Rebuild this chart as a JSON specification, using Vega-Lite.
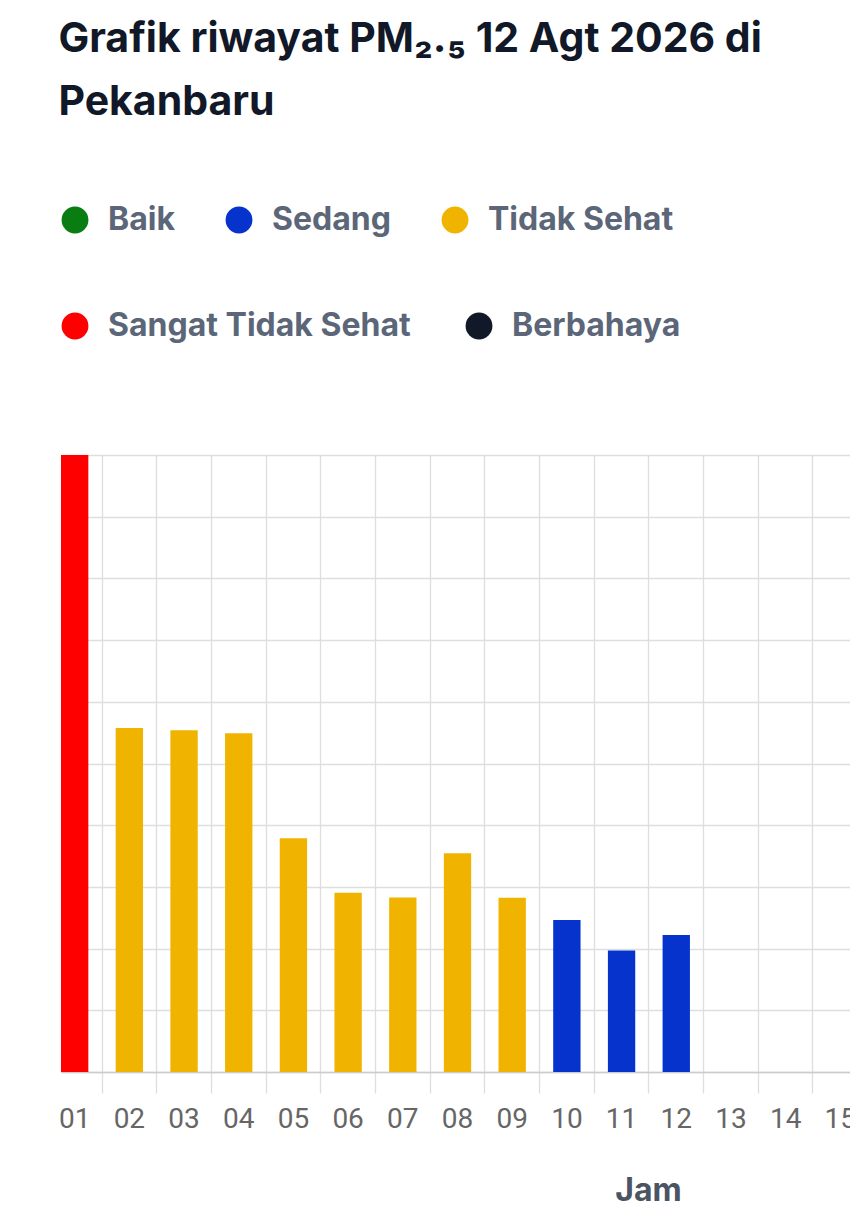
{
  "$schema": "https://vega.github.io/schema/vega-lite/v6.json",
  "description": "Riwayat PM2.5 per jam, 12 Agt 2026, Pekanbaru",
  "width": 793,
  "height": 617,
  "padding": {"left": 58, "top": 19, "right": 0, "bottom": 0},
  "background": "white",
  "title": {
    "text": ["Grafik riwayat PM₂.₅ 12 Agt 2026 di", "Pekanbaru"],
    "anchor": "start",
    "font": "Inter",
    "fontSize": 41,
    "fontWeight": 700,
    "color": "#111827",
    "lineHeight": 63,
    "offset": 80
  },
  "data": {
    "values": [
      {"jam": "01", "pm25": 200, "kategori": "Sangat Tidak Sehat"},
      {"jam": "02", "pm25": 111.5, "kategori": "Tidak Sehat"},
      {"jam": "03", "pm25": 110.8, "kategori": "Tidak Sehat"},
      {"jam": "04", "pm25": 109.8, "kategori": "Tidak Sehat"},
      {"jam": "05", "pm25": 75.8, "kategori": "Tidak Sehat"},
      {"jam": "06", "pm25": 58.1, "kategori": "Tidak Sehat"},
      {"jam": "07", "pm25": 56.6, "kategori": "Tidak Sehat"},
      {"jam": "08", "pm25": 70.9, "kategori": "Tidak Sehat"},
      {"jam": "09", "pm25": 56.5, "kategori": "Tidak Sehat"},
      {"jam": "10", "pm25": 49.3, "kategori": "Sedang"},
      {"jam": "11", "pm25": 39.4, "kategori": "Sedang"},
      {"jam": "12", "pm25": 44.4, "kategori": "Sedang"}
    ]
  },
  "encoding": {
    "x": {
      "field": "jam",
      "type": "ordinal",
      "scale": {
        "domain": ["01", "02", "03", "04", "05", "06", "07", "08", "09", "10", "11", "12", "13", "14", "15"],
        "paddingInner": 0.5,
        "paddingOuter": 0
      },
      "axis": {
        "title": "Jam",
        "labelAngle": 0,
        "bandPosition": 1.5,
        "grid": true,
        "gridColor": "#dedede",
        "gridWidth": 1.3,
        "ticks": true,
        "tickSize": 21,
        "tickColor": "#dedede",
        "tickWidth": 1.3,
        "domainColor": "#cccccc",
        "domainWidth": 1.5,
        "labelFont": "Roboto",
        "labelFontSize": 28,
        "labelColor": "#666666",
        "labelPadding": 12,
        "titleFont": "Inter",
        "titleFontSize": 32,
        "titleFontWeight": 700,
        "titleColor": "#4a5462",
        "titlePadding": 42,
        "titleX": 587,
        "titleAlign": "center"
      }
    },
    "y": {
      "field": "pm25",
      "type": "quantitative",
      "scale": {"domain": [0, 200]},
      "axis": {
        "title": null,
        "labels": false,
        "ticks": false,
        "domain": false,
        "grid": true,
        "gridColor": "#dedede",
        "gridWidth": 1.3,
        "tickCount": 10
      }
    }
  },
  "layer": [
    {
      "transform": [{"filter": {"field": "kategori", "oneOf": ["Baik", "Sedang", "Tidak Sehat"]}}],
      "mark": {"type": "bar"},
      "encoding": {
        "color": {
          "field": "kategori",
          "type": "nominal",
          "scale": {
            "domain": ["Baik", "Sedang", "Tidak Sehat"],
            "range": ["#0a7d12", "#0533cc", "#f0b400"]
          },
          "legend": {
            "title": null,
            "orient": "none",
            "legendX": -2,
            "legendY": -251,
            "direction": "horizontal",
            "columns": 3,
            "padding": 0,
            "symbolType": "circle",
            "symbolSize": 720,
            "symbolStrokeWidth": 0,
            "symbolOpacity": 1,
            "labelFont": "Inter",
            "labelFontSize": 32,
            "labelFontWeight": 700,
            "labelColor": "#5b6678",
            "labelOffset": 17,
            "columnPadding": 48,
            "labelLimit": 400
          }
        }
      }
    },
    {
      "transform": [{"filter": {"field": "kategori", "oneOf": ["Sangat Tidak Sehat", "Berbahaya"]}}],
      "mark": {"type": "bar"},
      "encoding": {
        "color": {
          "field": "kategori",
          "type": "nominal",
          "scale": {
            "domain": ["Sangat Tidak Sehat", "Berbahaya"],
            "range": ["#ff0000", "#111827"]
          },
          "legend": {
            "title": null,
            "orient": "none",
            "legendX": -2,
            "legendY": -145,
            "direction": "horizontal",
            "columns": 2,
            "padding": 0,
            "symbolType": "circle",
            "symbolSize": 720,
            "symbolStrokeWidth": 0,
            "symbolOpacity": 1,
            "labelFont": "Inter",
            "labelFontSize": 32,
            "labelFontWeight": 700,
            "labelColor": "#5b6678",
            "labelOffset": 17,
            "columnPadding": 52,
            "labelLimit": 400
          }
        }
      }
    }
  ],
  "resolve": {"scale": {"color": "independent"}},
  "config": {
    "view": {"stroke": null}
  }
}
